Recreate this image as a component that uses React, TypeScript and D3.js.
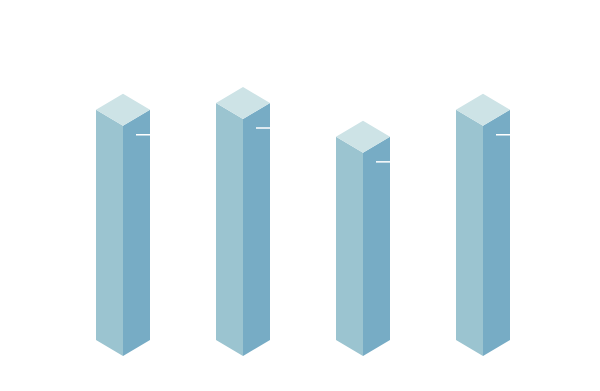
import React, { useEffect, useRef } from 'react'
import * as d3 from 'd3'

const categories = ['A', 'B', 'C', 'D']
const values = [68, 70, 60, 68]

const width = 600
const height = 391

const App = () => {
  const svgRef = useRef<SVGSVGElement>(null)

  useEffect(() => {
    const svg = d3.select(svgRef.current)
    svg.selectAll('*').remove()

    const x = d3.scaleBand().domain(categories).range([63, 543]).padding(0)
    const y = d3.scaleLinear().domain([0, 70]).range([356, 119])

    const half = x.bandwidth() * 0.225 // half bar width (27px)
    const dy = half * 0.593 // isometric depth (~16px)

    const g = svg.append('g')
    const bars = g
      .selectAll('g.bar')
      .data(categories.map((c, i) => ({ c, v: values[i] })))
      .enter()
      .append('g')
      .attr('class', 'bar')

    const cx = (d: any) => (x(d.c) as number) + x.bandwidth() / 2
    const base = y(0)

    // left face
    bars
      .append('path')
      .attr('fill', '#9bc4d0')
      .attr('d', (d: any) => {
        const c = cx(d)
        const t = y(d.v)
        return `M${c - half},${t - dy}L${c},${t}L${c},${base}L${c - half},${base - dy}Z`
      })

    // right face
    bars
      .append('path')
      .attr('fill', '#77acc5')
      .attr('d', (d: any) => {
        const c = cx(d)
        const t = y(d.v)
        return `M${c},${t}L${c + half},${t - dy}L${c + half},${base - dy}L${c},${base}Z`
      })

    // top face
    bars
      .append('path')
      .attr('fill', '#cde3e6')
      .attr('d', (d: any) => {
        const c = cx(d)
        const t = y(d.v)
        return `M${c},${t - 2 * dy}L${c + half},${t - dy}L${c},${t}L${c - half},${t - dy}Z`
      })

    // label leader line
    bars
      .append('line')
      .attr('stroke', '#ffffff')
      .attr('stroke-width', 1.5)
      .attr('x1', (d: any) => cx(d) + 13)
      .attr('x2', (d: any) => cx(d) + half)
      .attr('y1', (d: any) => y(d.v) + 9)
      .attr('y2', (d: any) => y(d.v) + 9)
  }, [])

  return (
    <svg
      ref={svgRef}
      width={width}
      height={height}
      style={{ position: 'absolute', left: 0, top: 0, display: 'block', background: '#ffffff' }}
    ></svg>
  )
}

export default App
